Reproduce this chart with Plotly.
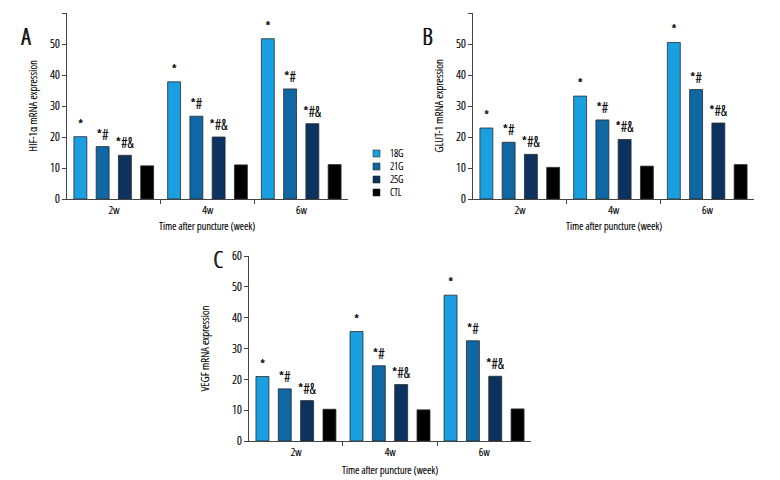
import plotly.graph_objects as go

categories = ["2w", "4w", "6w"]
groups = ["18G", "21G", "25G", "CTL"]
colors = ["#1aa0e0", "#0f67a4", "#0c3260", "#000000"]
sig_labels = ["*", "*#", "*#&", ""]

hif_18g = [20.1, 37.8, 51.7]
hif_21g = [16.9, 26.7, 35.5]
hif_25g = [14.1, 20.0, 24.3]
hif_ctl = [10.7, 11.0, 11.1]

glut_18g = [22.9, 33.2, 50.5]
glut_21g = [18.3, 25.5, 35.3]
glut_25g = [14.4, 19.2, 24.5]
glut_ctl = [10.2, 10.6, 11.1]

vegf_18g = [20.9, 35.5, 47.3]
vegf_21g = [16.9, 24.4, 32.5]
vegf_25g = [13.1, 18.3, 21.0]
vegf_ctl = [10.3, 10.1, 10.4]

y_ticks = [0, 10, 20, 30, 40, 50, 60]
x_title = "Time after puncture (week)"

panels = [
    ("x", "y", [hif_18g, hif_21g, hif_25g, hif_ctl]),
    ("x2", "y2", [glut_18g, glut_21g, glut_25g, glut_ctl]),
    ("x3", "y3", [vegf_18g, vegf_21g, vegf_25g, vegf_ctl]),
]

FONT = "Open Sans Condensed Light, Roboto, sans-serif"
TXT = "#000000"
SH = "0.35px 0 0 #000"
OFF = 8  # page body margin
W, H = 780 - OFF, 480 - OFF


def f(size, shadow=SH):
    return dict(size=size, color=TXT, family=FONT, shadow=shadow)


fig = go.Figure()
for xa, ya, series in panels:
    for g, c, lab, vals in zip(groups, colors, sig_labels, series):
        fig.add_trace(go.Bar(
            x=categories, y=vals, name=g, xaxis=xa, yaxis=ya,
            marker=dict(color=c, line=dict(color="#2a2a2a", width=0.8)),
            text=[lab] * len(vals), textposition="outside",
            textfont=f(15), outsidetextfont=f(15),
            constraintext="none", cliponaxis=False,
            offsetgroup=g, showlegend=False,
        ))


def px_x(v):
    return (v - OFF) / W


def px_y(v):
    return (H - (v - OFF)) / H


def xaxis(x0, x1, anchor):
    return dict(
        domain=[px_x(x0), px_x(x1)], anchor=anchor,
        range=[-0.499, 2.499], type="category",
        tickson="boundaries", ticks="outside", ticklen=4, tickcolor="#444",
        showline=True, linecolor="#444", linewidth=1, showgrid=False,
        tickfont=f(11.5), automargin=False, fixedrange=True,
    )


def yaxis(y0, y1, anchor, title, standoff):
    return dict(
        domain=[px_y(y0), px_y(y1)], anchor=anchor,
        range=[0, 60], tickvals=y_ticks,
        ticks="outside", ticklen=4, tickcolor="#444",
        showline=True, linecolor="#444", linewidth=1, showgrid=False, zeroline=False,
        tickfont=f(12),
        title=dict(text=title, standoff=standoff, font=f(11.5)),
        automargin=False, fixedrange=True,
    )


# compact legend (squares + labels)
LEG_Y0, LEG_DY = 153.5, 13
legend_shapes = []
for i, c in enumerate(colors):
    yc = LEG_Y0 + LEG_DY * i
    legend_shapes.append(dict(
        type="rect", xref="paper", yref="paper",
        x0=px_x(373), x1=px_x(380), y0=px_y(yc + 3.5), y1=px_y(yc - 3.5),
        fillcolor=c, line=dict(color="#2a2a2a", width=0.6)))
legend_text = dict(
    text="<br>".join(groups), x=px_x(388), y=px_y(LEG_Y0 + LEG_DY * 1.5),
    xref="paper", yref="paper", xanchor="left", yanchor="middle", align="left",
    showarrow=False, font=f(10))

x_titles = [dict(text=x_title, x=px_x(xc), y=px_y(yc), xref="paper", yref="paper",
                 xanchor="center", yanchor="middle", showarrow=False, font=f(11))
            for xc, yc in [(207.5, 225), (613.5, 225), (390, 469)]]

letters = [("A", 19, 18), ("B", 427, 18), ("C", 211, 259)]
letter_ann = [dict(text=t, x=px_x(x), y=px_y(y), xref="paper", yref="paper",
                   showarrow=False, font=f(23, shadow="0.9px 0 0 #000"))
              for t, x, y in letters]

fig.update_layout(
    width=W, height=H,
    margin=dict(l=0, r=0, t=0, b=0),
    paper_bgcolor="white", plot_bgcolor="white",
    barmode="group", bargap=0.05, bargroupgap=0.42,
    font=dict(family=FONT, size=12, color=TXT),
    showlegend=False,
    xaxis=xaxis(67, 348, "y"),
    yaxis=yaxis(199, 13, "x", "HIF-1α mRNA expression", 9),
    xaxis2=xaxis(473, 754, "y2"),
    yaxis2=yaxis(199, 13, "x2", "GLUT-1 mRNA expression", 9),
    xaxis3=xaxis(249, 531, "y3"),
    yaxis3=yaxis(441, 256, "x3", "VEGF mRNA expression", 19),
    shapes=legend_shapes,
    annotations=letter_ann + [legend_text] + x_titles,
)

fig.write_html("out.html")
